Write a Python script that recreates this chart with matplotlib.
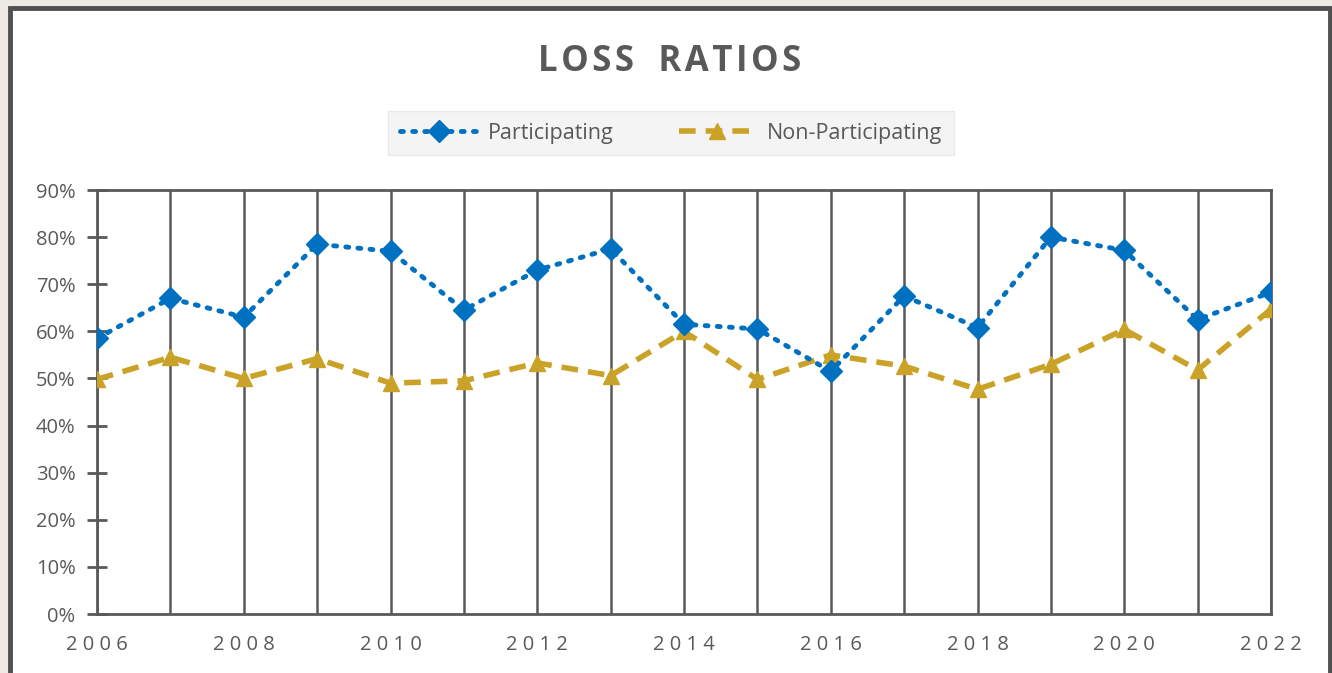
import matplotlib
matplotlib.use("Agg")
import matplotlib.pyplot as plt
from matplotlib.patches import Rectangle
from matplotlib.ticker import FuncFormatter

years = list(range(2006, 2023))
participating = [58.5, 67.0, 63.0, 78.5, 77.0, 64.5, 73.0, 77.5, 61.5, 60.5,
                 51.5, 67.5, 60.8, 80.0, 77.2, 62.5, 68.3]
non_participating = [49.8, 54.5, 50.0, 54.2, 49.0, 49.5, 53.3, 50.6, 60.0, 49.8,
                     55.0, 52.6, 47.7, 53.0, 60.4, 51.8, 64.7]
y_ticks = list(range(0, 100, 10))
x_label_years = list(range(2006, 2023, 2))

plt.rcParams['font.family'] = ['Open Sans', 'DejaVu Sans']
TXT = '#595959'
BLUE = '#0070C0'
GOLD = '#C9A227'

fig = plt.figure(figsize=(13.32, 6.73), dpi=100, facecolor='#ede9e4')
fig.patches.append(Rectangle((10/1332, -0.01), 1320/1332, 1 - 8/673 + 0.01,
                             transform=fig.transFigure, facecolor='white',
                             edgecolor='#505050', linewidth=3.5, zorder=-5))

ax = fig.add_axes([97/1332, 1 - 614/673, 1174/1332, 424/673])
ax.set_facecolor('white')

ax.plot(years, participating, color=BLUE, linestyle=(0, (0.6, 1.9)),
        dash_capstyle='round', linewidth=3.5, marker='D', markersize=11,
        label='Participating', zorder=4)
ax.plot(years, non_participating, color=GOLD, linestyle=(0, (3, 1.8)),
        linewidth=4, marker='^', markersize=12, label='Non-Participating', zorder=3)

ax.set_xlim(2006, 2022)
ax.set_ylim(0, 90)
ax.set_xticks(years, minor=True)
ax.set_xticks(x_label_years)
ax.set_xticklabels([' '.join(str(y)) for y in x_label_years])
ax.grid(axis='x', which='both', color='#595959', linewidth=1.8, zorder=1)
ax.tick_params(axis='x', which='both', length=0, pad=15, labelsize=14.5, labelcolor=TXT)
ax.set_yticks(y_ticks)
ax.yaxis.set_major_formatter(FuncFormatter(lambda v, p: f'{int(v)}%'))
ax.tick_params(axis='y', direction='inout', length=15, width=2, color='#595959',
               pad=8, labelsize=14.5, labelcolor=TXT)
for s in ax.spines.values():
    s.set_color('#595959')
    s.set_linewidth(2)

title = 'LOSS RATIOS'
spaced = '\u200a'.join(title).replace(' ', '\u2002')
fig.text(670/1332, 1 - 62/673, spaced,
         ha='center', va='center', fontsize=25, fontweight='bold', color=TXT)

leg = fig.legend(loc='center', bbox_to_anchor=(671/1332, 1 - 133/673), ncol=2,
                 frameon=True, fontsize=15.5, handlelength=3.6, columnspacing=3.0,
                 handletextpad=0.5, borderpad=0.55, borderaxespad=0, fancybox=False)
leg.get_frame().set_facecolor('#f2f2f2')
leg.get_frame().set_edgecolor('#e6e6e6')
for t in leg.get_texts():
    t.set_color(TXT)

fig.savefig('out.png', dpi=100, facecolor=fig.get_facecolor())
